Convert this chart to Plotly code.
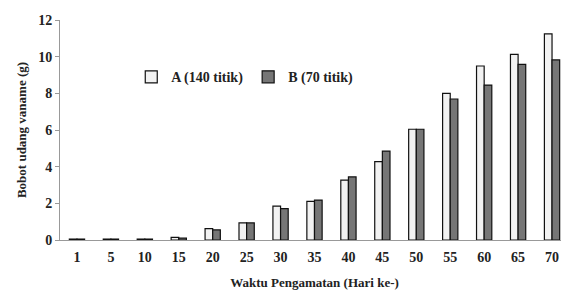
import plotly.graph_objects as go

days = ["1", "5", "10", "15", "20", "25", "30", "35", "40", "45", "50", "55", "60", "65", "70"]
series_a = [0.05, 0.05, 0.05, 0.14, 0.62, 0.93, 1.85, 2.11, 3.27, 4.27, 6.04, 8.0, 9.49, 10.13, 11.24]
series_b = [0.05, 0.05, 0.05, 0.10, 0.55, 0.93, 1.71, 2.18, 3.44, 4.85, 6.04, 7.69, 8.45, 9.58, 9.82]
name_a = "A (140 titik)"
name_b = "B (70 titik)"

font_family = "'Liberation Serif', 'DejaVu Serif', 'Times New Roman', serif"

fig = go.Figure()
fig.add_trace(go.Bar(x=days, y=series_a, name=name_a,
                     marker=dict(color="#f2f2f2", line=dict(color="#111111", width=1.2))))
fig.add_trace(go.Bar(x=days, y=series_b, name=name_b,
                     marker=dict(color="#767676", line=dict(color="#111111", width=1.2))))

fig.update_layout(
    width=561, height=283,
    margin=dict(l=52, r=0, t=12, b=51),
    paper_bgcolor="white", plot_bgcolor="white",
    barmode="group", bargap=0.55, bargroupgap=0,
    font=dict(family=font_family, size=13, color="#222222"),
    showlegend=True,
    legend=dict(orientation="h", x=0.14, y=0.74, xanchor="left", yanchor="middle",
                font=dict(family=font_family, size=14, color="#222222", weight="bold"),
                bgcolor="rgba(0,0,0,0)", itemwidth=30, tracegroupgap=0),
    xaxis=dict(
        title=dict(text="<b>Waktu Pengamatan (Hari ke-)</b>", standoff=14,
                   font=dict(family=font_family, size=13)),
        tickfont=dict(family=font_family, size=14, weight="bold"),
        ticklabelstandoff=4,
        showline=True, linecolor="#999999", linewidth=1,
        ticks="", showgrid=False,
    ),
    yaxis=dict(
        title=dict(text="<b>Bobot udang vaname (g)</b>", standoff=8,
                   font=dict(family=font_family, size=13)),
        range=[0, 12], tickvals=[0, 2, 4, 6, 8, 10, 12],
        tickfont=dict(family=font_family, size=14, weight="bold"),
        showline=True, linecolor="#999999", linewidth=1,
        ticks="outside", ticklen=4, tickcolor="#999999",
        showgrid=False, zeroline=False,
    ),
)

fig.write_html("out.html")
